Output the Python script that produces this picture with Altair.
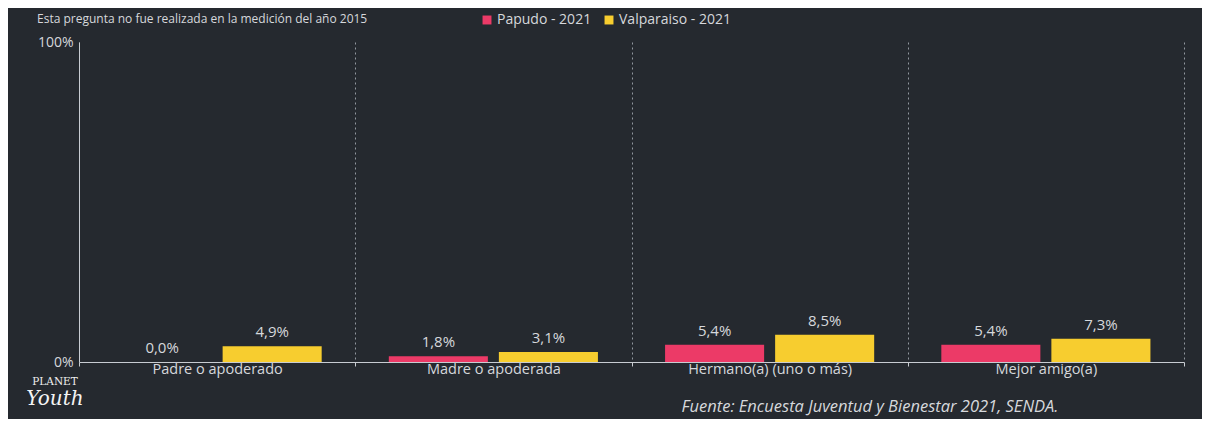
import altair as alt
import pandas as pd

categories = ["Padre o apoderado", "Madre o apoderada", "Hermano(a) (uno o más)", "Mejor amigo(a)"]
series = ["Papudo - 2021", "Valparaiso - 2021"]
papudo = [0.0, 1.8, 5.4, 5.4]
valparaiso = [4.9, 3.1, 8.5, 7.3]
colors = ["#ec3a67", "#f7cd2f"]
y_ticks = [0, 100]

note_text = "Esta pregunta no fue realizada en la medición del año 2015"
source_text = "Fuente: Encuesta Juventud y Bienestar 2021, SENDA."
logo_top = "PLANET"
logo_bottom = "Youth"

rows = []
for cat, a, b in zip(categories, papudo, valparaiso):
    for s, v in zip(series, [a, b]):
        rows.append({"cat": cat, "serie": s, "val": v,
                     "lab": f"{v:.1f}%".replace(".", ",")})
df = pd.DataFrame(rows)

BG = "#25292f"
TXT = "#d6d8dc"
FONT = "Open Sans"

x_enc = alt.X("cat:N", sort=categories, title=None,
              scale=alt.Scale(paddingInner=0, paddingOuter=0),
              axis=alt.Axis(tickBand="extent", grid=True, gridDash=[2, 3],
                            gridColor="#aeb4bc", gridOpacity=0.8, gridWidth=1,
                            domainColor="#c8ccd2", tickColor="#c8ccd2", tickSize=4,
                            labelColor=TXT, labelFontSize=14.5, labelFont=FONT,
                            labelPadding=-4, labelAngle=0))
xo_enc = alt.XOffset("serie:N", sort=series,
                     scale=alt.Scale(paddingInner=0.1, paddingOuter=0.305))
y_enc = alt.Y("val:Q", title=None,
              scale=alt.Scale(domain=[0, 100]),
              axis=alt.Axis(values=y_ticks, labelExpr="datum.value + '%'",
                            grid=False, ticks=False, domainColor="#c8ccd2",
                            labelColor=TXT, labelFontSize=14, labelFont=FONT,
                            labelPadding=6))
color_enc = alt.Color("serie:N", sort=series,
                      scale=alt.Scale(domain=series, range=colors),
                      legend=alt.Legend(title=None, orient="none", direction="horizontal",
                                        legendX=401, legendY=-29, symbolType="square",
                                        symbolSize=80, symbolStrokeWidth=0,
                                        labelColor=TXT, labelFontSize=14, labelFont=FONT,
                                        columnPadding=10, symbolOffset=0, labelOffset=3))

base = alt.Chart(df)
bars = base.mark_bar().encode(x=x_enc, xOffset=xo_enc, y=y_enc, color=color_enc)
labels = base.mark_text(baseline="bottom", dy=-6, fontSize=15, font=FONT, color=TXT).encode(
    x=alt.X("cat:N", sort=categories), xOffset=alt.XOffset("serie:N", sort=series),
    y="val:Q", text="lab:N")

note = alt.Chart(pd.DataFrame({"t": [note_text]})).mark_text(
    align="left", baseline="middle", fontSize=12, font=FONT,
    color=TXT).encode(x=alt.value(-42), y=alt.value(-23), text="t:N")
src = alt.Chart(pd.DataFrame({"t": [source_text]})).mark_text(
    align="center", baseline="middle", fontSize=16.5, font=FONT, fontStyle="italic",
    color=TXT).encode(x=alt.value(791), y=alt.value(365), text="t:N")
logo1 = alt.Chart(pd.DataFrame({"t": [logo_top]})).mark_text(
    align="center", baseline="middle", fontSize=10.5, font="DejaVu Serif",
    color="#eeeeee").encode(x=alt.value(-24), y=alt.value(340), text="t:N")
logo2 = alt.Chart(pd.DataFrame({"t": [logo_bottom]})).mark_text(
    align="center", baseline="middle", fontSize=20, font="DejaVu Serif",
    fontStyle="italic", color="#f4f4f4").encode(x=alt.value(-24), y=alt.value(357),
                                                 text="t:N")

chart = alt.layer(bars, labels, note, src, logo1, logo2).properties(
    width=1105, height=320,
    autosize=alt.AutoSizeParams(type="none"),
    padding={"left": 71, "top": 34, "right": 18, "bottom": 57},
    background=BG,
).configure_view(stroke=None)

chart.save("out.html", embed_options={"renderer": "svg", "actions": False})
